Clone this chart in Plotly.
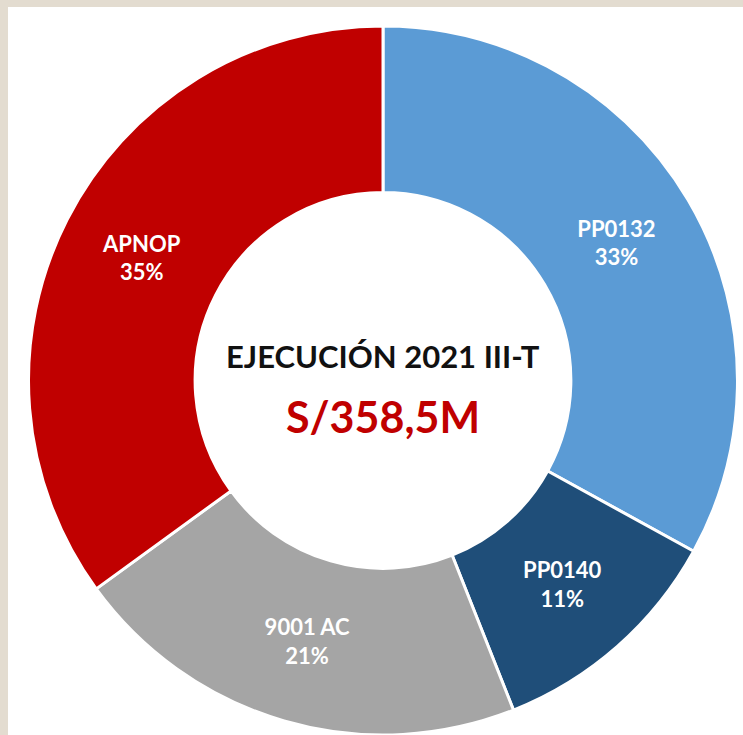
import plotly.graph_objects as go

labels = ["PP0132", "PP0140", "9001 AC", "APNOP"]
values = [33, 11, 21, 35]
colors = ["#5B9BD5", "#1F4E79", "#A5A5A5", "#C00000"]
title_text = "EJECUCIÓN 2021 III-T"
total_text = "S/358,5M"

W, H = 743, 735
cx, cy, r = 383, 381, 355

fig = go.Figure(go.Pie(
    labels=labels,
    values=values,
    sort=False,
    direction="clockwise",
    rotation=0,
    hole=0.53,
    marker=dict(colors=colors, line=dict(color="white", width=3)),
    texttemplate="%{label}<br>%{percent}",
    textposition="inside",
    insidetextorientation="horizontal",
    textfont=dict(family="Lato", size=22, color="white", weight="bold"),
    showlegend=False,
    hoverinfo="label+percent",
    domain=dict(x=[(cx - r) / W, (cx + r) / W], y=[max(0, 1 - (cy + r) / H), 1 - (cy - r) / H]),
))

fig.add_annotation(x=cx / W, y=1 - 356 / H, xref="paper", yref="paper",
                   text=title_text, showarrow=False,
                   font=dict(family="Lato", size=31, color="#111111", weight="bold"))
fig.add_annotation(x=cx / W, y=1 - 416 / H, xref="paper", yref="paper",
                   text=total_text, showarrow=False,
                   font=dict(family="Lato", size=43, color="#C00000", weight="bold"))

fig.update_layout(
    width=W, height=H,
    margin=dict(l=0, r=0, t=0, b=0),
    paper_bgcolor="#E3DCD0",
    shapes=[dict(type="rect", xref="paper", yref="paper", x0=8 / W, x1=1, y0=0, y1=1 - 7 / H,
                 fillcolor="white", line=dict(width=0), layer="below")],
)

fig.write_html(
    "out.html",
    config={"displayModeBar": False},
    post_script="document.body.style.margin='0';document.body.style.overflow='hidden';",
)
